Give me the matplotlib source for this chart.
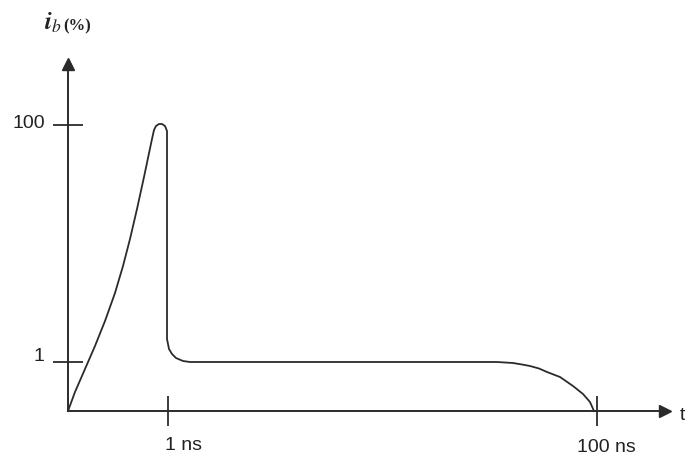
import matplotlib.pyplot as plt
import numpy as np

plt.rcParams['font.family'] = ['Liberation Sans', 'DejaVu Sans']
plt.rcParams['mathtext.fontset'] = 'stix'

# Current pulse shape (schematic units, origin at the axis corner)
t_pts = [0.00, 0.07, 0.17, 0.27, 0.37, 0.47, 0.55, 0.62, 0.69, 0.76, 0.84,
         0.86, 0.88, 0.91, 0.94, 0.97, 0.99,
         0.99, 1.01, 1.04, 1.08, 1.15, 1.22,
         2.50, 4.29, 4.45, 4.54, 4.62, 4.71, 4.79, 4.92, 5.05, 5.15, 5.22, 5.26]
i_pts = [0.00, 0.19, 0.42, 0.65, 0.90, 1.18, 1.45, 1.72, 2.02, 2.34, 2.72,
         2.81, 2.85, 2.87, 2.87, 2.85, 2.80,
         0.72, 0.62, 0.57, 0.53, 0.50, 0.49,
         0.49, 0.49, 0.48, 0.465, 0.45, 0.425, 0.39, 0.34, 0.25, 0.17, 0.09, 0.00]

yticks = [0.49, 2.86]
ytick_labels = ['1', '100']
xticks = [1.00, 5.29]
xtick_labels = ['1 ns', '100 ns']

fig = plt.figure(figsize=(6.85, 4.6), dpi=100)
ax = fig.add_axes([0, 0, 1, 1])
ax.set_xlim(-0.68, 6.17)
ax.set_ylim(-0.48, 4.12)

col = '#2b2b2b'
txt = '#222222'
ax.plot(t_pts, i_pts, color=col, linewidth=1.3, solid_joinstyle='round')

# axes with arrows
for s in ['top', 'right']:
    ax.spines[s].set_visible(False)
ax.spines['left'].set_position(('data', 0))
ax.spines['bottom'].set_position(('data', 0))
ax.spines['left'].set_bounds(0, 3.42)
ax.spines['bottom'].set_bounds(0, 5.92)
for s in ['left', 'bottom']:
    ax.spines[s].set_color(col)
    ax.spines[s].set_linewidth(1.4)
ax.plot(5.97, 0, marker='>', color=col, markersize=8, clip_on=False)
ax.plot(0, 3.47, marker='^', color=col, markersize=8, clip_on=False)

ax.set_yticks(yticks)
ax.set_xticks(xticks)
ax.set_yticklabels([])
ax.set_xticklabels([])
ax.tick_params(axis='both', direction='inout', length=22, width=1.3, color=col)

# tick labels placed like the original drawing
ax.text(-0.24, yticks[0] - 0.02, ytick_labels[0], fontsize=14, color=txt,
        ha='right', va='bottom')
ax.text(-0.23, yticks[1] + 0.02, ytick_labels[1], fontsize=14, color=txt,
        ha='right', va='center')
ax.text(xticks[0] - 0.03, -0.25, xtick_labels[0], fontsize=14, color=txt,
        ha='left', va='top')
ax.text(xticks[1] - 0.20, -0.27, xtick_labels[1], fontsize=14, color=txt,
        ha='left', va='top')

ax.text(-0.24, 3.82, r'$\boldsymbol{i}_{b}$', fontsize=18, color=txt)
ax.text(-0.05, 3.82, '(%)', fontsize=12, color=txt, family='Liberation Serif',
        fontweight='bold')
ax.text(6.12, -0.04, 't', fontsize=14, color=txt, va='center', ha='left')

fig.savefig('out.png', dpi=100)
